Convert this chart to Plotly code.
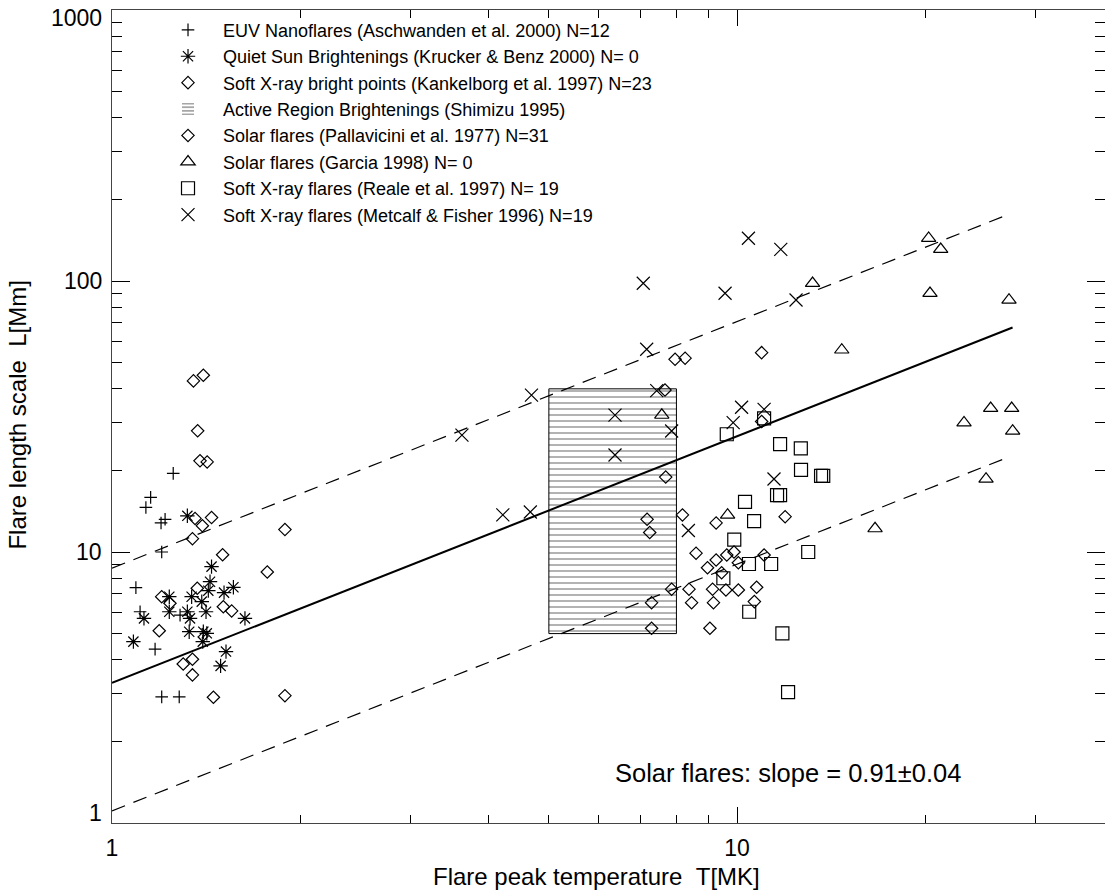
import numpy as np
import plotly.graph_objects as go

# ---- data: peak temperature T [MK] and length scale L [Mm] ----
# EUV nanoflares (Aschwanden et al. 2000)
euv_T = [1.253, 1.153, 1.133, 1.216, 1.198, 1.201, 1.092, 1.109, 1.285, 1.172, 1.201, 1.281]
euv_L = [19.5, 15.9, 14.6, 13.2, 12.8, 10.0, 7.39, 6.02, 5.85, 4.38, 2.92, 2.92]

# Quiet Sun brightenings (Krucker & Benz 2000)
qs_T = [1.320, 1.443, 1.435, 1.564, 1.235, 1.341, 1.426, 1.511, 1.392, 1.235, 1.320,
        1.414, 1.125, 1.333, 1.632, 1.329, 1.400, 1.418, 1.397, 1.082, 1.522, 1.492]
qs_L = [13.6, 8.83, 7.77, 7.41, 6.84, 6.84, 7.20, 7.08, 6.56, 6.02, 6.02,
        6.02, 5.69, 5.69, 5.69, 5.08, 5.08, 5.01, 4.67, 4.67, 4.29, 3.80]

# Soft X-ray bright points (Kankelborg et al. 1997)
bp_T = [1.35, 1.40, 1.371, 1.383, 1.420, 1.358, 1.443, 1.395, 1.345, 1.891, 1.503, 1.772,
        1.369, 1.201, 1.238, 1.507, 1.554, 1.190, 1.345, 1.300, 1.345, 1.453, 1.891]
bp_L = [42.8, 44.9, 28.0, 21.7, 21.5, 13.3, 13.4, 12.5, 11.2, 12.1, 9.77, 8.44,
        7.35, 6.84, 6.47, 6.28, 6.06, 5.12, 4.02, 3.86, 3.52, 2.91, 2.95]

# Active region brightenings (Shimizu 1995): T and L ranges
ar_T = [5.0, 8.0]
ar_L = [5.0, 40.0]

# Solar flares (Pallavicini et al. 1977)
pal_T = [7.96, 8.26, 10.95, 7.67, 10.95, 7.69, 8.18, 9.26, 11.94, 9.89, 9.63, 9.26,
         8.97, 10.05, 11.05, 9.45, 7.86, 8.38, 9.14, 9.60, 10.05, 10.75, 8.46, 9.17,
         10.66, 7.30, 7.30, 9.05, 7.18, 7.25, 8.60]
pal_L = [51.4, 51.9, 54.4, 39.6, 30.3, 18.9, 13.7, 12.8, 13.5, 10.0, 9.75, 9.34,
         8.75, 9.13, 9.75, 8.39, 7.29, 7.29, 7.29, 7.24, 7.24, 7.41, 6.50, 6.50,
         6.56, 6.50, 5.23, 5.23, 13.2, 11.8, 9.9]

# Solar flares (Garcia 1998)
gar_T = [13.21, 14.71, 7.58, 9.66, 20.26, 21.18, 20.36, 27.24, 25.46, 27.51, 23.08,
         27.61, 25.03, 16.63]
gar_L = [98.1, 55.7, 32.0, 13.7, 143.8, 130.9, 90.1, 85.1, 33.9, 33.9, 30.0,
         27.96, 18.6, 12.2]

# Soft X-ray flares (Reale et al. 1997)
rea_T = [9.63, 11.05, 11.72, 12.65, 12.66, 13.63, 13.74, 11.59, 11.72, 10.30, 10.65,
         9.90, 13.0, 10.45, 11.34, 9.51, 10.46, 11.82, 12.07]
rea_L = [27.2, 31.1, 25.0, 24.1, 20.1, 19.1, 19.1, 16.2, 16.2, 15.3, 13.0,
         11.1, 10.0, 9.03, 9.03, 8.0, 6.02, 5.01, 3.04]

# Soft X-ray flares (Metcalf & Fisher 1996)
met_T = [10.43, 11.75, 7.08, 9.57, 12.43, 7.17, 4.69, 7.44, 6.38, 7.86, 6.38, 10.17,
         9.86, 11.05, 11.46, 4.22, 4.67, 3.63, 8.36]
met_L = [143.8, 130.9, 98.1, 90.1, 85.1, 56.0, 37.9, 39.4, 32.0, 27.96, 22.8, 34.2,
         30.0, 33.6, 18.6, 13.7, 14.05, 27.0, 12.0]

# Power-law fit to solar flares: L = L0 * T^slope, with dashed envelope
slope = 0.91
slope_err = 0.04
fit_L0 = 3.29
fit_T = [1.0, 27.6]
band_T = [1.0, 27.0]
band_hi = 2.65
band_lo = 0.337

# axis ticks
x_major = [1, 10]
x_labels = ["1", "10"]
x_minor = [2, 3, 4, 5, 6, 7, 8, 9, 20, 30]
y_major = [1, 10, 100, 1000]
y_labels = ["1", "10", "100", "1000"]
y_minor = [m * d for d in (1, 10, 100) for m in range(2, 10)]

FONT = "Liberation Sans, Arial, Helvetica, sans-serif"
INK = "black"
AR_NAME = "Active Region Brightenings (Shimizu 1995)"

fig = go.Figure()

# hatched box for active-region brightenings
fig.add_trace(go.Scatter(
    x=[ar_T[0], ar_T[1], ar_T[1], ar_T[0], ar_T[0]],
    y=[ar_L[0], ar_L[0], ar_L[1], ar_L[1], ar_L[0]],
    mode="lines", fill="toself",
    line=dict(color=INK, width=1),
    fillcolor="white",
    fillpattern=dict(shape="-", size=6, solidity=0.2, fgcolor=INK, bgcolor="white"),
    name=AR_NAME, showlegend=False, hoverinfo="skip",
))
# legend swatch for the hatched box (three horizontal strokes)
fig.add_trace(go.Bar(
    x=[None], y=[None], name=AR_NAME, legendrank=4,
    marker=dict(color="white", line=dict(width=0),
                pattern=dict(shape="-", size=4.5, solidity=0.35,
                             fgcolor=INK, bgcolor="white")),
))

# fit line and envelope
fT = np.array(fit_T)
bT = np.array(band_T)
fig.add_trace(go.Scatter(x=fT, y=fit_L0 * fT ** slope, mode="lines",
                         line=dict(color=INK, width=2), showlegend=False))
for k in (band_hi, band_lo):
    fig.add_trace(go.Scatter(x=bT, y=k * fit_L0 * bT ** slope, mode="lines",
                             line=dict(color=INK, width=1.2, dash="14px,9px"),
                             showlegend=False))

series = [
    (euv_T, euv_L, "cross-thin-open", 9, "EUV Nanoflares (Aschwanden et al. 2000) N=12", 1),
    (qs_T, qs_L, "asterisk-open", 12, "Quiet Sun Brightenings (Krucker & Benz 2000) N= 0", 2),
    (bp_T, bp_L, "diamond-open", 9.5, "Soft X-ray bright points (Kankelborg et al. 1997) N=23", 3),
    (pal_T, pal_L, "diamond-open", 9.5, "Solar flares (Pallavicini et al. 1977) N=31", 5),
    (gar_T, gar_L, "triangle-up-open", 12.5, "Solar flares (Garcia 1998) N= 0", 6),
    (rea_T, rea_L, "square-open", 13, "Soft X-ray flares (Reale et al. 1997) N= 19", 7),
    (met_T, met_L, "x-thin-open", 13, "Soft X-ray flares (Metcalf & Fisher 1996) N=19", 8),
]
for T, L, sym, size, name, rank in series:
    fig.add_trace(go.Scatter(
        x=T, y=L, mode="markers", name=name, legendrank=rank,
        marker=dict(symbol=sym, size=size, color=INK,
                    line=dict(color=INK, width=1.2)),
    ))

# y tick labels (end labels nudged inside the frame)
for v, t in zip(y_major, y_labels):
    shift = -8 if v == y_major[-1] else (10 if v == y_major[0] else 0)
    fig.add_annotation(x=0, xref="paper", xanchor="right", xshift=-8,
                       y=np.log10(v), yref="y", yshift=shift, yanchor="middle",
                       text=t, showarrow=False,
                       font=dict(family=FONT, size=23, color=INK))

fig.add_annotation(x=0.5045, xref="paper", xanchor="left",
                   y=0.0615, yref="paper", yanchor="middle",
                   text=f"Solar flares: slope = {slope:.2f}\u00b1{slope_err:.2f}",
                   showarrow=False, font=dict(family=FONT, size=25.5, color=INK))

fig.add_annotation(x=0.488, xref="paper", xanchor="center",
                   y=-0.0655, yref="paper", yanchor="middle",
                   text="Flare peak temperature \u00a0T[MK]", showarrow=False,
                   font=dict(family=FONT, size=24, color=INK))
fig.add_annotation(x=-0.095, xref="paper", xanchor="center",
                   y=0.502, yref="paper", yanchor="middle", textangle=-90,
                   text="Flare length scale \u00a0L[Mm]", showarrow=False,
                   font=dict(family=FONT, size=24, color=INK))

axis_common = dict(
    type="log", showgrid=False, zeroline=False, showline=True,
    linecolor="#444", linewidth=1, mirror="ticks", ticks="inside",
    tickcolor=INK, tickwidth=1,
)
fig.update_xaxes(
    **axis_common, range=[0, 1.5888], ticklen=16,
    tickvals=x_major, ticktext=x_labels, ticklabelstandoff=4,
    tickfont=dict(family=FONT, size=23, color=INK),
    minor=dict(tickvals=x_minor, ticks="inside", ticklen=8, tickcolor=INK, showgrid=False),
)
fig.update_yaxes(
    **axis_common, range=[0, 3], ticklen=18,
    tickvals=y_major, showticklabels=False,
    minor=dict(tickvals=y_minor, ticks="inside", ticklen=10, tickcolor=INK, showgrid=False),
)

fig.update_layout(
    width=1105, height=892,
    margin=dict(l=112, r=0, t=10, b=69),
    paper_bgcolor="white", plot_bgcolor="white",
    font=dict(family=FONT, color=INK),
    showlegend=True,
    legend=dict(x=0.0413, y=0.998, xanchor="left", yanchor="top",
                itemwidth=60, bgcolor="rgba(0,0,0,0)",
                font=dict(family=FONT, size=18, color=INK)),
)

fig.write_html("out.html")
